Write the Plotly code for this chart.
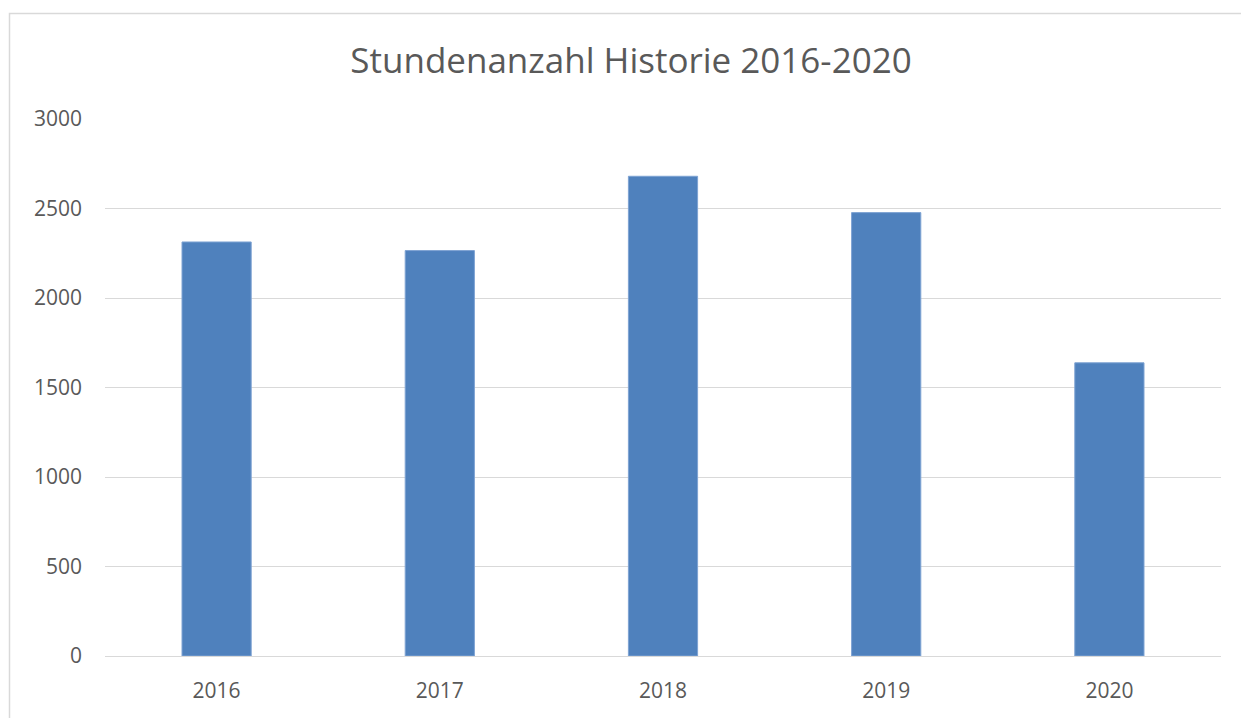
import plotly.graph_objects as go

years = ["2016", "2017", "2018", "2019", "2020"]
hours = [2313, 2265, 2680, 2477, 1638]
y_ticks = [0, 500, 1000, 1500, 2000, 2500, 3000]

W, H = 1241, 718
L, R, T, B = 105, 20, 119, 62
pw, ph = W - L - R, H - T - B

def px_x(x):
    return (x - L) / pw

def px_y(y):
    return (H - B - y) / ph

fig = go.Figure(go.Bar(
    x=years, y=hours,
    marker=dict(color="#4f81bd", line=dict(color="#7ea3d3", width=1)),
    width=0.31,
))

fig.update_layout(
    width=W, height=H,
    margin=dict(l=L, r=R, t=T, b=B),
    paper_bgcolor="white", plot_bgcolor="white",
    title=dict(text="Stundenanzahl Historie 2016-2020", x=631 / W, xanchor="center",
               y=1 - 61 / H, yanchor="middle",
               font=dict(family="Open Sans", size=35, color="#595959")),
    font=dict(family="Open Sans", color="#595959"),
    showlegend=False,
    xaxis=dict(showgrid=False, showline=False, ticks="", tickfont=dict(size=21),
               ticklabelstandoff=20),
    yaxis=dict(range=[0, 3000], tickvals=y_ticks, showgrid=True, gridcolor="#d9d9d9",
               gridwidth=1, zeroline=True, zerolinecolor="#d9d9d9", zerolinewidth=1,
               showline=False, ticks="", tickfont=dict(size=21), ticklabelstandoff=22),
    shapes=[dict(type="rect", xref="paper", yref="paper",
                 x0=px_x(9.5), x1=px_x(1250), y0=px_y(730), y1=px_y(13.5),
                 line=dict(color="#d9d9d9", width=1.5), fillcolor="rgba(0,0,0,0)",
                 layer="below")],
)

fig.write_html("out.html")
